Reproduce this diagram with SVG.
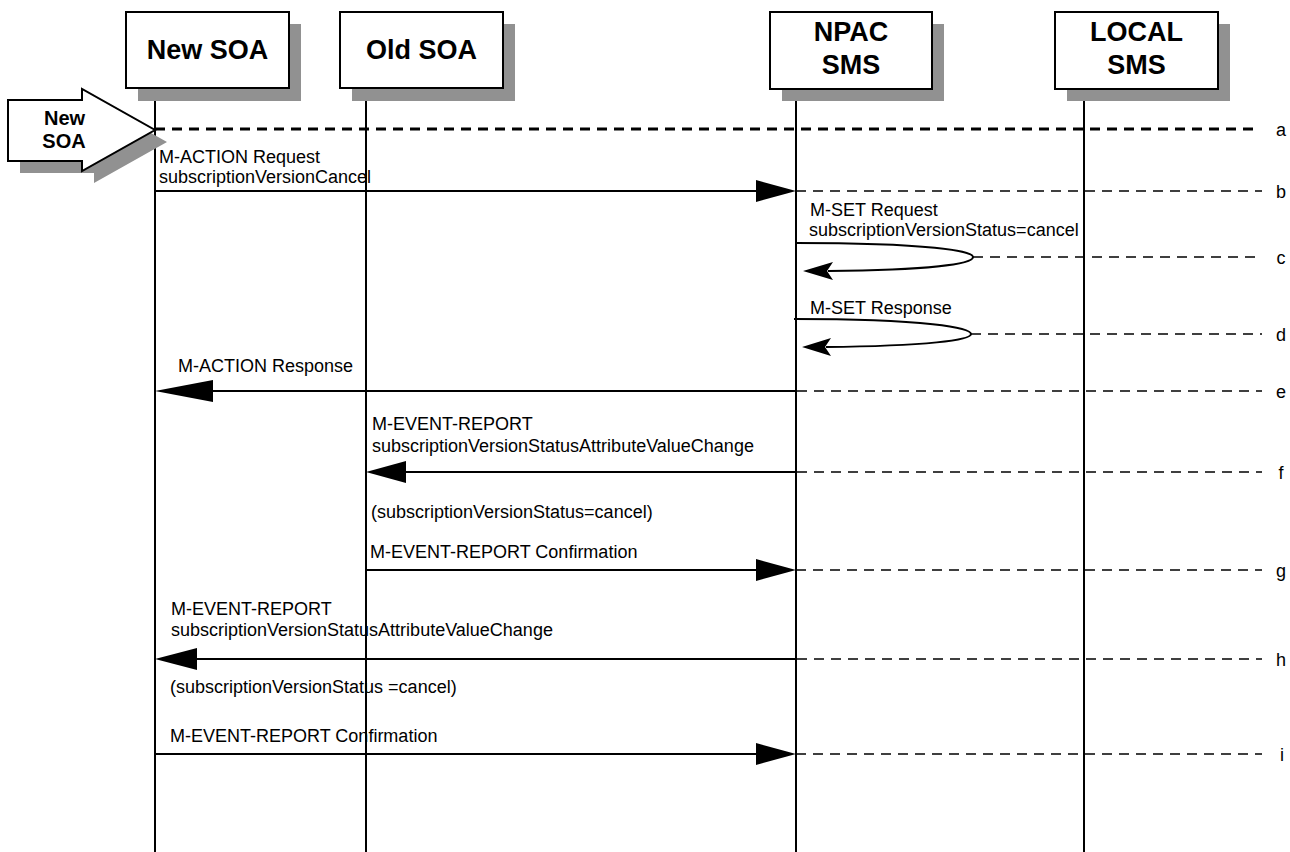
<svg xmlns="http://www.w3.org/2000/svg" width="1290" height="852" viewBox="0 0 1290 852">
<style>
.box{fill:#fff;stroke:#000;stroke-width:2}
.shadow{fill:#919191;stroke:none}
.life{stroke:#000;stroke-width:2;fill:none}
.title{font-family:"Liberation Sans",Arial,sans-serif;font-weight:bold;font-size:27px;fill:#000;text-anchor:middle}
.atext{font-family:"Liberation Sans",Arial,sans-serif;font-weight:bold;font-size:20px;fill:#000;text-anchor:middle}
.lbl{font-family:"Liberation Sans",Arial,sans-serif;font-size:18px;fill:#000}
.tag{font-family:"Liberation Sans",Arial,sans-serif;font-size:18px;fill:#000;text-anchor:middle}
.msg{stroke:#000;stroke-width:2;fill:none}
.dash{stroke:#000;stroke-width:1.6;stroke-dasharray:10 7;fill:none}
.dashA{stroke:#000;stroke-width:2.8;stroke-dasharray:10 7;fill:none}
.head{fill:#000;stroke:none}
</style>
<rect width="1290" height="852" fill="#fff"/>

<g id="new-soa">
  <line class="life" x1="155" y1="100" x2="155" y2="852"/>
  <rect class="shadow" x="138" y="24" width="163" height="77"/>
  <rect class="box" x="126" y="12" width="163" height="76"/>
  <text class="title" x="207.5" y="59">New SOA</text>
</g>
<g id="old-soa">
  <line class="life" x1="366" y1="100" x2="366" y2="852"/>
  <rect class="shadow" x="352" y="24" width="163" height="77"/>
  <rect class="box" x="340" y="12" width="163" height="76"/>
  <text class="title" x="421.5" y="59">Old SOA</text>
</g>
<g id="npac-sms">
  <line class="life" x1="796" y1="100" x2="796" y2="852"/>
  <rect class="shadow" x="782" y="24" width="162" height="77"/>
  <rect class="box" x="770" y="12" width="162" height="77"/>
  <text class="title" x="851" y="41">NPAC</text>
  <text class="title" x="851" y="74">SMS</text>
</g>
<g id="local-sms">
  <line class="life" x1="1084" y1="100" x2="1084" y2="852"/>
  <rect class="shadow" x="1067" y="24" width="163" height="77"/>
  <rect class="box" x="1055" y="12" width="163" height="77"/>
  <text class="title" x="1136.5" y="41">LOCAL</text>
  <text class="title" x="1136.5" y="74">SMS</text>
</g>
<g id="start-arrow">
  <polygon class="shadow" points="20,112 94,112 94,101 167,142 94,183 94,173 20,173"/>
  <polygon fill="#fff" stroke="#000" stroke-width="2" points="8,100 82,100 82,89 155,130 82,171 82,161 8,161"/>
  <text class="atext" x="64.5" y="125">New</text>
  <text class="atext" x="64" y="148">SOA</text>
</g>

<g id="connectors">
  <!-- a -->
  <line class="dashA" x1="155" y1="129" x2="1260" y2="129"/>
  <!-- b -->
  <line class="msg" x1="155" y1="191" x2="760" y2="191"/>
  <polygon class="head" points="796,191 756,180 756,202"/>
  <line class="dash" x1="796" y1="191" x2="1262" y2="191"/>
  <!-- c -->
  <path class="msg" d="M796,243 C930,243 973,251 973,257 C973,264 930,270 828,271"/>
  <polygon class="head" points="803,271 833,262 827,271 833,280"/>
  <line class="dash" x1="973" y1="257" x2="1262" y2="257"/>
  <!-- d -->
  <path class="msg" d="M794,319 C928,319 971,328 971,334 C971,340 928,346 826,347"/>
  <polygon class="head" points="802,347 831,338 825,347 831,356"/>
  <line class="dash" x1="971" y1="334" x2="1262" y2="334"/>
  <!-- e -->
  <line class="msg" x1="796" y1="391" x2="200" y2="391"/>
  <polygon class="head" points="155,391 213,380 213,402"/>
  <line class="dash" x1="780" y1="391" x2="1262" y2="391"/>
  <!-- f -->
  <line class="msg" x1="796" y1="472" x2="400" y2="472"/>
  <polygon class="head" points="366,472 406,461 406,483"/>
  <line class="dash" x1="780" y1="472" x2="1262" y2="472"/>
  <!-- g -->
  <line class="msg" x1="366" y1="570" x2="760" y2="570"/>
  <polygon class="head" points="796,570 756,559 756,581"/>
  <line class="dash" x1="796" y1="570" x2="1262" y2="570"/>
  <!-- h -->
  <line class="msg" x1="796" y1="659" x2="190" y2="659"/>
  <polygon class="head" points="155,659 197,648 197,670"/>
  <line class="dash" x1="780" y1="659" x2="1262" y2="659"/>
  <!-- i -->
  <line class="msg" x1="155" y1="754" x2="760" y2="754"/>
  <polygon class="head" points="796,754 756,743 756,765"/>
  <line class="dash" x1="796" y1="754" x2="1262" y2="754"/>
</g>

<g id="labels">
  <text class="lbl" x="159" y="163">M-ACTION Request</text>
  <text class="lbl" x="159" y="183">subscriptionVersionCancel</text>
  <text class="lbl" x="810" y="216">M-SET Request</text>
  <text class="lbl" x="809" y="236">subscriptionVersionStatus=cancel</text>
  <text class="lbl" x="810" y="314">M-SET Response</text>
  <text class="lbl" x="178" y="372">M-ACTION Response</text>
  <text class="lbl" x="372" y="430">M-EVENT-REPORT</text>
  <text class="lbl" x="372" y="452">subscriptionVersionStatusAttributeValueChange</text>
  <text class="lbl" x="371" y="518">(subscriptionVersionStatus=cancel)</text>
  <text class="lbl" x="370" y="558">M-EVENT-REPORT Confirmation</text>
  <text class="lbl" x="171" y="615">M-EVENT-REPORT</text>
  <text class="lbl" x="171" y="636">subscriptionVersionStatusAttributeValueChange</text>
  <text class="lbl" x="170" y="693">(subscriptionVersionStatus =cancel)</text>
  <text class="lbl" x="170" y="742">M-EVENT-REPORT Confirmation</text>
  <text class="tag" x="1281" y="136">a</text>
  <text class="tag" x="1281" y="198">b</text>
  <text class="tag" x="1281" y="264">c</text>
  <text class="tag" x="1281" y="341">d</text>
  <text class="tag" x="1281" y="398">e</text>
  <text class="tag" x="1281" y="479">f</text>
  <text class="tag" x="1281" y="577">g</text>
  <text class="tag" x="1281" y="666">h</text>
  <text class="tag" x="1282" y="761">i</text>
</g>
</svg>
